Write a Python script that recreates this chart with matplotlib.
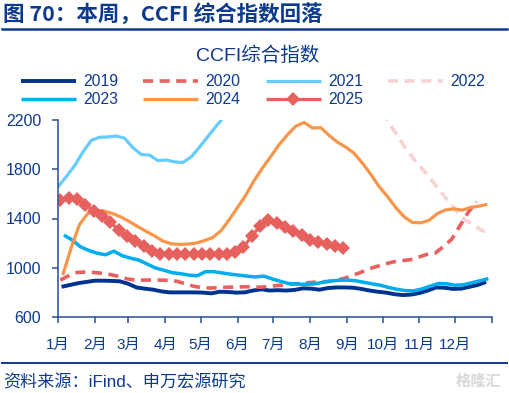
import numpy as np
import pandas as pd
import matplotlib
matplotlib.use('Agg')
import matplotlib.pyplot as plt
from matplotlib.lines import Line2D

plt.rcParams['font.family'] = ['Liberation Sans', 'Noto Sans CJK SC', 'DejaVu Sans']

# DATA (weekly CCFI, first Friday of each year)
years = ['2019', '2020', '2021', '2022', '2023', '2024', '2025']
starts = ['2019-01-04', '2020-01-03', '2021-01-01', '2022-01-07', '2023-01-06', '2024-01-05', '2025-01-03']
v2019 = [845, 860, 875, 885, 895, 895, 893, 890, 870, 840, 830, 822, 808, 800, 800, 800, 800, 798, 792, 805,
         803, 798, 800, 815, 825, 815, 818, 815, 820, 833, 830, 822, 835, 840, 840, 838, 828, 815, 805, 798,
         785, 778, 782, 795, 815, 840, 838, 828, 830, 845, 860, 885]
v2020 = [900, 935, 962, 965, 962, 955, 945, 930, 910, 900, 900, 900, 900, 898, 890, 870, 850, 838, 835, 838,
         842, 843, 845, 845, 842, 848, 855, 860, 868, 874, 880, 885, 888, 898, 912, 935, 960, 990, 1010, 1030,
         1048, 1058, 1065, 1085, 1108, 1118, 1170, 1230, 1340, 1450, 1535]
v2021 = [1658, 1740, 1830, 1940, 2035, 2060, 2062, 2070, 2052, 1975, 1920, 1915, 1870, 1875, 1860, 1855, 1900,
         1980, 2065, 2150, 2230, 2330, 2450, 2550, 2650, 2750, 2850, 2950, 3000, 3050, 3100, 3150, 3200, 3250,
         3300, 3350, 3250, 3200, 3150, 3100, 3150, 3200, 3250, 3280, 3300, 3320, 3330, 3350, 3380, 3400, 3420, 3440]
v2022 = [3450, 3480, 3500, 3520, 3500, 3480, 3450, 3420, 3400, 3370, 3350, 3330, 3300, 3280, 3260, 3250, 3240,
         3230, 3220, 3210, 3200, 3190, 3180, 3170, 3150, 3120, 3080, 3050, 3000, 2950, 2900, 2850, 2800, 2700,
         2600, 2500, 2420, 2350, 2290, 2165, 2065, 1960, 1875, 1797, 1712, 1628, 1545, 1465, 1390, 1350, 1305, 1275]
v2023 = [1265, 1225, 1170, 1140, 1118, 1105, 1135, 1098, 1078, 1062, 1030, 998, 980, 960, 952, 940, 935, 968,
         968, 958, 948, 940, 932, 925, 932, 910, 890, 872, 868, 865, 868, 880, 892, 898, 900, 895, 882, 870, 858,
         840, 825, 815, 812, 828, 850, 872, 870, 858, 862, 878, 895, 912]
v2024 = [941, 1160, 1350, 1440, 1468, 1460, 1440, 1412, 1375, 1335, 1296, 1260, 1218, 1195, 1190, 1192, 1200,
         1220, 1245, 1300, 1390, 1490, 1590, 1710, 1810, 1905, 2000, 2080, 2150, 2180, 2135, 2138, 2075, 2020,
         1980, 1930, 1850, 1760, 1660, 1580, 1490, 1415, 1368, 1365, 1385, 1440, 1470, 1478, 1468, 1490, 1500, 1515]
v2025 = [1550, 1565, 1560, 1510, 1462, 1420, 1372, 1305, 1258, 1218, 1178, 1135, 1115, 1110, 1112, 1110, 1115,
         1113, 1112, 1110, 1115, 1125, 1170, 1255, 1340, 1385, 1360, 1330, 1300, 1265, 1225, 1210, 1195, 1180, 1160]
series = [v2019, v2020, v2021, v2022, v2023, v2024, v2025]
months = ['1月', '2月', '3月', '4月', '5月', '6月', '7月', '8月', '9月', '10月', '11月', '12月']

navy = '#0D3A8C'
styles = {
    '2019': dict(color='#00338D', lw=2.8),
    '2020': dict(color='#E8615F', lw=2.6, dashes=(2.8, 1.8)),
    '2021': dict(color='#66CCFF', lw=2.3),
    '2022': dict(color='#F8D3D3', lw=2.6, dashes=(2.8, 1.8)),
    '2023': dict(color='#00ADEE', lw=2.5),
    '2024': dict(color='#F7964A', lw=2.3),
    '2025': dict(color='#E6605E', lw=2.3, marker='D', ms=7.5, mew=0),
}

fig = plt.figure(figsize=(5.09, 3.93), dpi=100)
ax = fig.add_axes([58/509, 1-317/393, (492-58)/509, (317-120)/393])

handles = {}
for yr, st, vals in zip(years, starts, series):
    d = pd.date_range(st, periods=len(vals), freq='7D')
    x = (d - pd.Timestamp(yr + '-01-01')).days.values
    l, = ax.plot(x, vals, solid_capstyle='butt', **styles[yr])
    handles[yr] = l

ax.set_ylim(600, 2200)
ax.set_yticks([600, 1000, 1400, 1800, 2200])
ax.set_xlim(0, 365)
mstart = [(pd.Timestamp('2019-%02d-01' % m) - pd.Timestamp('2019-01-01')).days for m in range(1, 13)] + [365]
ax.set_xticks(mstart)
ax.set_xticklabels(months + [''])
for s in ['top', 'right']:
    ax.spines[s].set_visible(False)
for s in ['left', 'bottom']:
    ax.spines[s].set_color('#2A4C9C')
    ax.spines[s].set_linewidth(1.1)
ax.tick_params(axis='x', colors='#2A4C9C', labelcolor=navy, labelsize=11, length=4, width=1.1, pad=11)
ax.tick_params(axis='y', colors='#2A4C9C', labelcolor=navy, labelsize=11.5, length=4, width=1.1, pad=8)

# legend (row-wise order) + chart title
fig.text(0.506, 1-56/393, 'CCFI综合指数', ha='center', va='center', fontsize=14, color=navy)
order = ['2019', '2023', '2020', '2024', '2021', '2025', '2022']
fig.legend([handles[k] for k in order], order, ncol=4, loc='upper left', bbox_to_anchor=(0.041, 1-74/393),
           frameon=False, fontsize=11.3, labelcolor=navy, handlelength=3.5, handletextpad=0.45,
           columnspacing=1.62, labelspacing=0.22, borderaxespad=0, borderpad=0, numpoints=1)

# header / footer
fig.text(0.006, 1-14/393, '图 70：本周，CCFI 综合指数回落', ha='left', va='center', fontsize=15.5,
         fontweight='bold', color=navy, family=['Noto Sans CJK SC'])
fig.add_artist(Line2D([0.004, 0.996], [1-28.5/393]*2, color='#0B3B94', lw=1.8))
fig.add_artist(Line2D([0.004, 0.996], [1-363/393]*2, color='#0B3B94', lw=1.4))
fig.text(0.006, 1-382/393, '资料来源：iFind、申万宏源研究', ha='left', va='center', fontsize=12.3, color=navy)
fig.text(0.985, 1-381/393, '格隆汇', ha='right', va='center', fontsize=11, color='#D8D8D8', fontweight='bold',
         family=['Noto Sans CJK SC'])

plt.savefig('out.png', dpi=100)
plt.close()
